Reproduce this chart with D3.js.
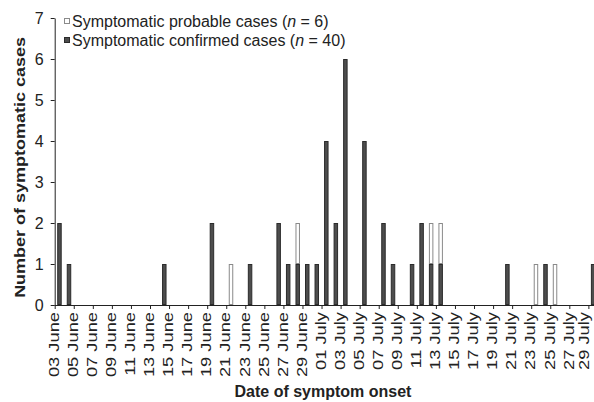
<!DOCTYPE html>
<html>
<head>
<meta charset="utf-8">
<script src="https://cdn.jsdelivr.net/npm/d3@7"></script>
<style>
  body { margin: 0; background: #fff; }
  svg { display: block; font-family: Arial, "Liberation Sans", sans-serif; }
</style>
</head>
<body>
<div id="container"></div>
<script>
document.addEventListener("DOMContentLoaded", function() {
    let container = document.getElementById('container');

    // one category per day, 03 June to 29 July
    const days = d3.timeDay.range(new Date(2009, 5, 3), new Date(2009, 6, 30));
    const fmt = d3.timeFormat("%d %B");
    const categories = days.map(fmt);

    const confirmed = [2,1,0,0,0,0,0,0,0,0,0,
                       1,0,0,0,0,2,0,0,0,1,
                       0,0,2,1,1,1,1,4,2,6,
                       0,4,0,2,1,0,1,2,1,1,
                       0,0,0,0,0,0,1,0,0,0,
                       1,0,0,0,0,1];
    const probable  = [0,0,0,0,0,0,0,0,0,0,0,
                       0,0,0,0,0,0,0,1,0,0,
                       0,0,0,0,1,0,0,0,0,0,
                       0,0,0,0,0,0,0,0,1,1,
                       0,0,0,0,0,0,0,0,0,1,
                       0,1,0,0,0,0];
    const yTicks = [0,1,2,3,4,5,6,7];
    const tickLabels = categories.filter((d, i) => i % 2 === 0);

    const width = 594, height = 402;
    const x0 = 54.7, step = 9.53;
    const y0 = 305, y1 = 18;

    const rows = categories.map((c, i) => ({date: c, confirmed: confirmed[i], probable: probable[i]}));
    const series = d3.stack().keys(["confirmed", "probable"])(rows);

    const x = d3.scaleBand()
        .domain(categories)
        .range([x0, x0 + step * categories.length])
        .paddingInner(0.53)
        .paddingOuter(0.265);
    const xTick = d3.scalePoint()
        .domain(categories)
        .range([x0, x0 + step * (categories.length - 1)]);
    const y = d3.scaleLinear().domain([0, 7]).range([y0, y1]);

    const fills = {confirmed: "#4d4d4d", probable: "#ffffff"};
    const strokes = {confirmed: "#2b2b2b", probable: "#8a8a8a"};

    const svg = d3.create("svg")
        .attr("width", width)
        .attr("height", height)
        .attr("viewBox", [0, 0, width, height]);

    // bars
    svg.append("g")
      .selectAll("g")
      .data(series)
      .join("g")
        .attr("fill", s => fills[s.key])
        .attr("stroke", s => strokes[s.key])
        .attr("stroke-width", 1)
      .selectAll("rect")
      .data(s => s.filter(d => d[1] > d[0]))
      .join("rect")
        .attr("x", d => x(d.data.date) + 0.5)
        .attr("y", d => y(d[1]) + 0.5)
        .attr("width", x.bandwidth() - 1)
        .attr("height", d => y(d[0]) - y(d[1]) - 1);

    // x axis
    const gx = svg.append("g")
        .attr("transform", `translate(0,${y0})`)
        .call(d3.axisBottom(xTick).tickValues(tickLabels).tickSize(4).tickSizeOuter(0).tickFormat(""));
    gx.select(".domain").attr("d", `M${x0},0.5H${width}`);
    gx.selectAll("line").attr("stroke", "#222");
    gx.select(".domain").attr("stroke", "#222");

    // rotated date labels; last one nudged so it stays inside the frame
    svg.append("g")
      .selectAll("text")
      .data(tickLabels)
      .join("text")
        .attr("transform", d => `translate(${Math.min(xTick(d) - 1, 584)},${y0 + 7}) rotate(-90) scale(1.22,1)`)
        .attr("text-anchor", "end")
        .attr("dy", "0.35em")
        .attr("font-size", 15)
        .attr("fill", "#222")
        .text(d => d);

    // y axis
    const gy = svg.append("g")
        .attr("transform", `translate(${x0},0)`)
        .call(d3.axisLeft(y).tickValues(yTicks).tickFormat(d3.format("d"))
            .tickSize(4).tickSizeOuter(0).tickPadding(7));
    gy.selectAll("text").attr("font-size", 16).attr("fill", "#222").attr("font-family", "Arial, 'Liberation Sans', sans-serif");
    gy.selectAll("line, .domain").attr("stroke", "#222");

    // axis titles
    svg.append("text")
        .attr("transform", `translate(25,${(y0 + y1) / 2 + 6}) rotate(-90) scale(1.2,1)`)
        .attr("text-anchor", "middle")
        .attr("font-size", 15)
        .attr("font-weight", "bold")
        .attr("fill", "#222")
        .text("Number of symptomatic cases");

    svg.append("text")
        .attr("x", 323)
        .attr("y", 397)
        .attr("text-anchor", "middle")
        .attr("font-size", 16)
        .attr("font-weight", "bold")
        .attr("fill", "#222")
        .text("Date of symptom onset");

    // legend
    const legend = [
        {key: "probable", label: "Symptomatic probable cases (", n: "6"},
        {key: "confirmed", label: "Symptomatic confirmed cases (", n: "40"}
    ];
    const lg = svg.append("g")
      .selectAll("g")
      .data(legend)
      .join("g")
        .attr("transform", (d, i) => `translate(64,${21 + i * 19})`);
    lg.append("rect")
        .attr("x", 0.5).attr("y", -2.5)
        .attr("width", 5).attr("height", 5)
        .attr("fill", d => fills[d.key])
        .attr("stroke", d => strokes[d.key]);
    const lt = lg.append("text")
        .attr("x", 8)
        .attr("y", 5.5)
        .attr("font-size", 16)
        .attr("fill", "#222");
    lt.append("tspan").text(d => d.label);
    lt.append("tspan").attr("font-style", "italic").text("n");
    lt.append("tspan").text(d => ` = ${d.n})`);

    container.append(svg.node());
});
</script>
</body>
</html>
